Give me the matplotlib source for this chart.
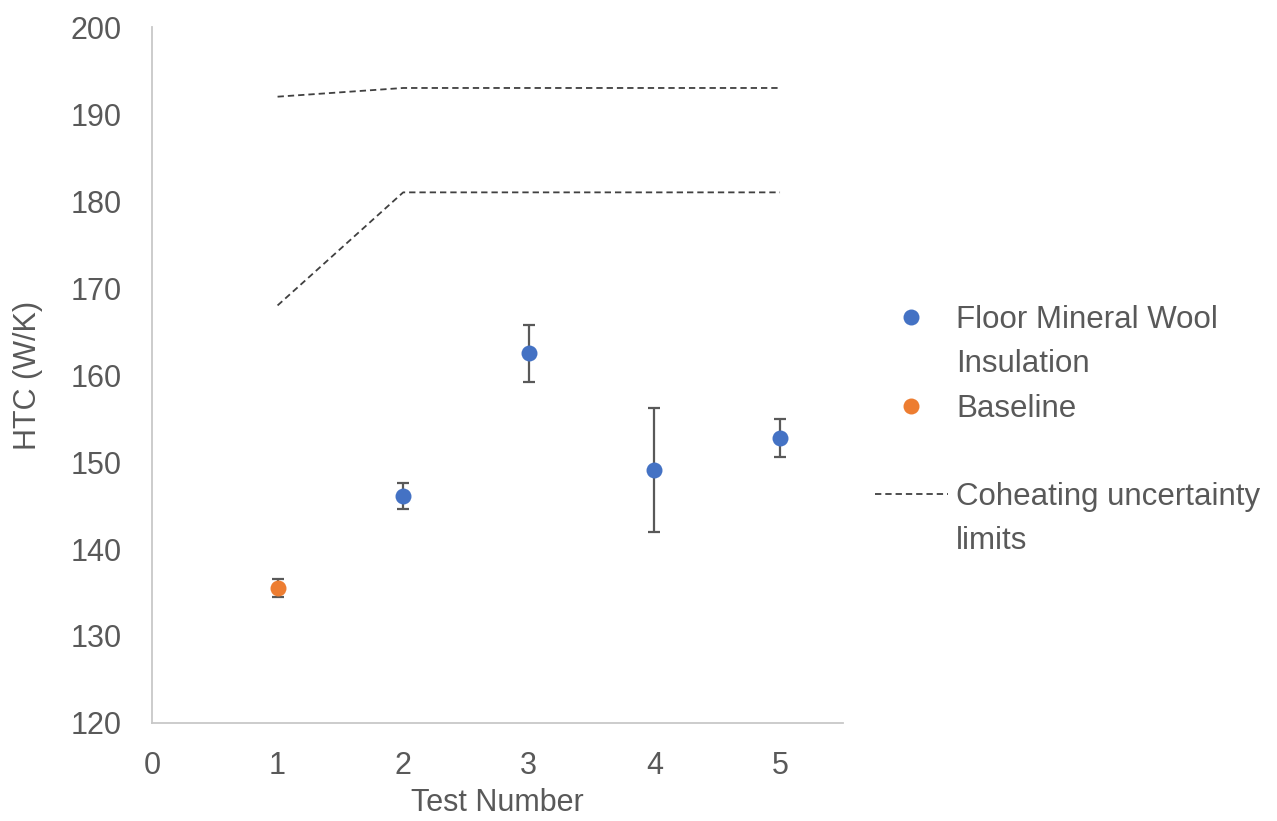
import matplotlib.pyplot as plt
from matplotlib.lines import Line2D

plt.rcParams['font.family'] = ['Liberation Sans', 'DejaVu Sans']

# measured HTC per test
base_x = [1]
base_y = [135.5]
base_err_lo = [1.0]
base_err_hi = [1.0]

wool_x = [2, 3, 4, 5]
wool_y = [146.1, 162.5, 149.1, 152.8]
wool_err_lo = [1.5, 3.3, 7.1, 2.2]
wool_err_hi = [1.5, 3.2, 7.1, 2.1]

# coheating uncertainty band
limit_x = [1, 2, 3, 4, 5]
upper_limit = [192, 193, 193, 193, 193]
lower_limit = [168, 181, 181, 181, 181]

text_col = '#595959'
blue = '#4472C4'
orange = '#ED7D31'
fs = 22

fig = plt.figure(figsize=(12.77, 8.21), dpi=100)
ax = fig.add_axes([0.119, 0.1194, 0.541, 0.8476])

dash = dict(color='#404040', lw=1.3, dashes=(3.5, 2.2))
ax.plot(limit_x, upper_limit, **dash)
ax.plot(limit_x, lower_limit, **dash)

eb = dict(fmt='o', ms=11.5, ecolor=text_col, elinewidth=1.6, capsize=4.5,
          capthick=1.6, mec='none', zorder=3)
ax.errorbar(wool_x, wool_y, yerr=[wool_err_lo, wool_err_hi], color=blue, **eb)
ax.errorbar(base_x, base_y, yerr=[base_err_lo, base_err_hi], color=orange, **eb)

ax.set_xlim(0, 5.5)
ax.set_ylim(120, 200)
ax.set_xticks(range(0, 6))
ax.set_yticks(range(120, 201, 10))
ax.tick_params(length=0, labelsize=fs, labelcolor=text_col)
ax.tick_params(axis='y', pad=22)
ax.tick_params(axis='x', pad=20)
for s in ['top', 'right']:
    ax.spines[s].set_visible(False)
for s in ['left', 'bottom']:
    ax.spines[s].set_color('#C8C8C8')
    ax.spines[s].set_linewidth(1.3)

ax.set_xlabel('Test Number', fontsize=fs, color=text_col, labelpad=5)
ax.set_ylabel('HTC (W/K)', fontsize=fs, color=text_col, labelpad=20)

blank = Line2D([], [], ls='none', marker='none')
handles = [
    Line2D([], [], ls='none', marker='o', ms=11.5, color=blue, mec='none'),
    blank,
    Line2D([], [], ls='none', marker='o', ms=11.5, color=orange, mec='none'),
    blank,
    Line2D([], [], **dash),
    blank,
]
labels = ['Floor Mineral Wool', 'Insulation', 'Baseline', ' ',
          'Coheating uncertainty', 'limits']
leg = fig.legend(handles, labels, loc='upper left', bbox_to_anchor=(0.685, 0.628),
                 frameon=False, fontsize=22.5, labelspacing=0.45, handlelength=2.35,
                 handletextpad=0.25, borderpad=0, borderaxespad=0)
for t in leg.get_texts():
    t.set_color(text_col)

fig.savefig('out.png', dpi=100)
